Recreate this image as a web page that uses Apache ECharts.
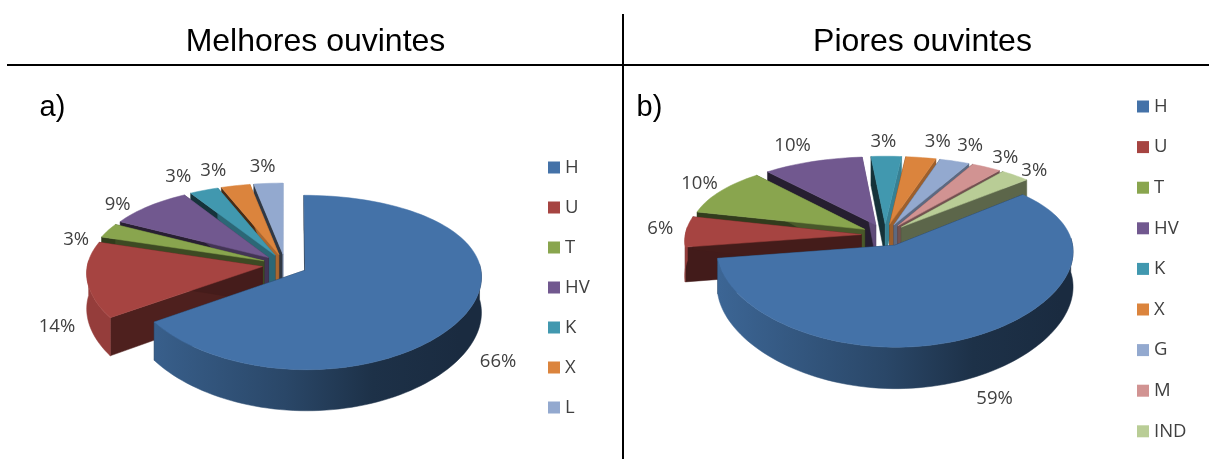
<!DOCTYPE html>
<html><head><meta charset="utf-8">
<style>html,body{margin:0;padding:0;background:#fff}#c{width:1209px;height:459px}</style>
<script src="https://cdn.jsdelivr.net/npm/echarts@6/dist/echarts.min.js"></script>
</head><body><div id="c"></div>
<script>
// ---- data ----
const categoriesA = ['H','U','T','HV','K','X','L'];
const valuesA = [65.7,14.3,2.9,8.6,2.9,2.9,2.9];
const categoriesB = ['H','U','T','HV','K','X','G','M','IND'];
const valuesB = [59,6,10,10,3,3,3,3,3];
// ---- styles ----
const colors = {H:'#4472a8',U:'#a64441',T:'#89a54e',HV:'#71588f',K:'#4198af',X:'#db843d',L:'#93a9cf',G:'#93a9cf',M:'#d19392',IND:'#b9cd96'};
// ---- layout of the two perspective pies ----
const pieA = {cats:categoriesA, vals:valuesA, start:0, cx:285, cy:265, rx:175, ry:84, k:0.14, kx:0.07, e:0.13, depth:35,
  nudge:{H:[10,25],U:[-7,41],T:[-12,13],HV:[-16,4],K:[-17,-6],X:[-17,-7],L:[-4,-9]}};
const pieB = {cats:categoriesB, vals:valuesB, start:49, cx:885, cy:235, rx:176, ry:82, k:0.16, kx:0.07, e:0.135, depth:34,
  nudge:{H:[8,11],U:[-3,-2],T:[-3,-3],HV:[-12,-9],K:[-3,-7],X:[13,-8],G:[8,-8],M:[8,-3],IND:[5,1]}};
const rad = d => d*Math.PI/180;
function shade(hex,f){const n=parseInt(hex.slice(1),16);return 'rgb('+[n>>16&255,n>>8&255,n&255].map(c=>Math.round(c*f)).join(',')+')';}
function project(p,a,r,mid){
  const U=p.e*Math.sin(rad(mid))+r*Math.sin(rad(a)), V=-(p.e*Math.cos(rad(mid))+r*Math.cos(rad(a)));
  const w=1/(1-p.k*V), wx=1/(1-p.kx*V);
  return {x:p.cx+p.rx*U*wx, y:p.cy+p.ry*V*w, d:p.depth*w};
}
function faceShade(normal){let d=Math.abs(((normal-90)%360+540)%360-180);return 0.32+0.6*Math.exp(-d/40);}
function sliceChildren(p,name,a0,a1,value){
  const mid=(a0+a1)/2, col=colors[name], kids=[];
  const apex=project(p,0,0,mid), arc=[], wall=[];
  for(let a=a0;;a+=2){
    const t=Math.min(a,a1), q=project(p,t,1,mid);
    arc.push(q);
    if(Math.cos(rad(t))<0.1) wall.push(q);
    if(t>=a1)break;
  }
  const s=arc[0], t=arc[arc.length-1];
  const poly=(pts,fill)=>({type:'polygon',shape:{points:pts},style:{fill:fill,stroke:fill,lineWidth:0.5}});
  const ring=q=>[q.x,q.y], low=q=>[q.x,q.y+q.d];
  // radial cut faces
  kids.push(poly([ring(apex),ring(s),low(s),low(apex)],shade(col,faceShade(a0-90))));
  kids.push(poly([ring(apex),ring(t),low(t),low(apex)],shade(col,faceShade(a1+90))));
  // outer wall, only where it faces the viewer
  if(wall.length>1){
    const grad={type:'linear',global:true,x:p.cx-p.rx,y:0,x2:p.cx+p.rx,y2:0,colorStops:[
      {offset:0,color:shade(col,0.9)},{offset:0.5,color:shade(col,0.62)},{offset:0.75,color:shade(col,0.43)},{offset:1,color:shade(col,0.38)}]};
    kids.push(poly(wall.map(ring).concat(wall.slice().reverse().map(low)),grad));
  }
  // top surface
  kids.push(poly([ring(apex)].concat(arc.map(ring)),col));
  // label
  const l=project(p,mid,1.13,mid), n=p.nudge[name]||[0,0];
  const front=Math.max(0,-Math.cos(rad(mid)));
  kids.push({type:'text',z2:50,style:{text:Math.round(value)+'%',x:l.x+n[0],y:l.y+front*l.d+n[1],align:'center',verticalAlign:'middle',
    fill:'#404040',font:'18.5px "Open Sans"'}});
  return kids;
}
function pieSeries(p){
  const tot=p.vals.reduce((a,b)=>a+b,0); let acc=p.start;
  const items=p.cats.map((name,i)=>{const a0=acc,a1=acc+p.vals[i]/tot*360;acc=a1;return {name,a0,a1,v:p.vals[i],mid:(a0+a1)/2};});
  const order=items.slice().sort((x,y)=>Math.cos(rad(y.mid))-Math.cos(rad(x.mid)));
  return items.map(it=>({
    type:'custom',coordinateSystem:'none',name:it.name,z:2+order.indexOf(it),silent:true,animation:false,
    itemStyle:{color:colors[it.name]},data:[[it.v]],
    renderItem:(params,api)=>({type:'group',children:sliceChildren(p,it.name,it.a0,it.a1,api.value(0))})
  }));
}
const txt=(t,x,y,size)=>({type:'text',x:x,y:y,style:{text:t,fill:'#000',font:size+'px "Liberation Sans"',align:'center',verticalAlign:'middle'}});
const line=(x1,y1,x2,y2)=>({type:'line',shape:{x1,y1,x2,y2},style:{stroke:'#000',lineWidth:2}});
const legend=(cats,left,top,gap)=>({data:cats,orient:'vertical',left:left,top:top,icon:'rect',itemWidth:12,itemHeight:12,itemGap:gap,selectedMode:false,
  textStyle:{color:'#404040',fontSize:18.5,fontFamily:'Open Sans',padding:[0,0,0,0]}});
const chart=echarts.init(document.getElementById('c'),null,{renderer:'canvas'});
chart.setOption({
  animation:false,backgroundColor:'#fff',
  legend:[legend(categoriesA,543,153,21),legend(categoriesB,1132,92,21.6)],
  series:pieSeries(pieA).concat(pieSeries(pieB)),
  graphic:[line(7,65,1209,65),line(623,14,623,459),
    txt('Melhores ouvintes',315.5,42,32),txt('Piores ouvintes',922.5,42,32),
    txt('a)',52.5,108,29),txt('b)',649.5,108,29)]
});
</script></body></html>
